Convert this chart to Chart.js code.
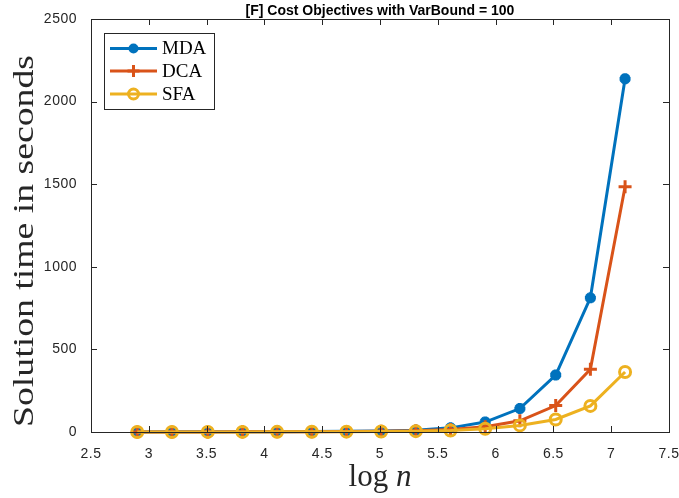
<!DOCTYPE html>
<html>
<head>
<meta charset="utf-8">
<script src="https://cdn.jsdelivr.net/npm/chart.js@4/dist/chart.umd.min.js"></script>
<style>
  html, body { margin: 0; padding: 0; background: #fff; }
</style>
</head>
<body>
<canvas id="chart" width="679" height="498"></canvas>
<script>
// log n values (n doubling each step)
const logN = [2.90, 3.20, 3.51, 3.81, 4.11, 4.41, 4.71, 5.01, 5.31, 5.61, 5.91, 6.21, 6.52, 6.82, 7.12];
// solution times in seconds
const mdaTime = [0.5, 0.8, 1, 1.5, 2, 3, 4, 6, 10, 25, 60, 142, 345, 812, 2138];
const dcaTime = [0.3, 0.5, 0.7, 1, 1.5, 2, 3, 4, 7, 15, 32, 68, 160, 380, 1485];
const sfaTime = [0.2, 0.3, 0.5, 0.7, 1, 1.5, 2, 3, 5, 9, 20, 40, 76, 158, 363];
const seriesNames = ['MDA', 'DCA', 'SFA'];
const seriesColors = ['#0072BD', '#D95319', '#EDB120'];
const xTicks = [2.5, 3, 3.5, 4, 4.5, 5, 5.5, 6, 6.5, 7, 7.5];
const yTicks = [0, 500, 1000, 1500, 2000, 2500];

const axisColor = '#262626';
const lw = 3;

function pts(ys) {
  return logN.map((x, i) => ({ x: x, y: ys[i] }));
}

function drawMarker(ctx, kind, x, y, color) {
  ctx.save();
  ctx.strokeStyle = color;
  ctx.fillStyle = color;
  ctx.lineWidth = lw;
  ctx.beginPath();
  if (kind === 'star') {
    ctx.arc(x, y, 5, 0, Math.PI * 2);
    ctx.fill();
  } else if (kind === 'cross') {
    ctx.moveTo(x - 6, y); ctx.lineTo(x + 6, y);
    ctx.moveTo(x, y - 6); ctx.lineTo(x, y + 6);
    ctx.stroke();
  } else {
    ctx.arc(x, y, 5, 0, Math.PI * 2);
    ctx.stroke();
  }
  ctx.restore();
}

const spacing = {
  id: 'spacing',
  beforeDraw(chart) { chart.ctx.letterSpacing = '0.5px'; }
};

const decorations = {
  id: 'decorations',
  afterDraw(chart) {
    const ctx = chart.ctx;
    ctx.letterSpacing = '0px';
    const a = chart.chartArea;
    const xs = chart.scales.x, ys = chart.scales.y;
    ctx.save();
    // box
    ctx.strokeStyle = axisColor;
    ctx.lineWidth = 1;
    ctx.strokeRect(Math.round(a.left) + 0.5, Math.round(a.top) + 0.5,
                   Math.round(a.right - a.left), Math.round(a.bottom - a.top));
    // tick marks, inward, all four sides
    ctx.beginPath();
    xTicks.forEach(v => {
      const px = Math.round(xs.getPixelForValue(v)) + 0.5;
      ctx.moveTo(px, a.bottom); ctx.lineTo(px, a.bottom - 6);
      ctx.moveTo(px, a.top); ctx.lineTo(px, a.top + 6);
    });
    yTicks.forEach(v => {
      const py = Math.round(ys.getPixelForValue(v)) + 0.5;
      ctx.moveTo(a.left, py); ctx.lineTo(a.left + 6, py);
      ctx.moveTo(a.right, py); ctx.lineTo(a.right - 6, py);
    });
    ctx.stroke();

    // title
    ctx.fillStyle = '#000';
    ctx.font = 'bold 14px "Liberation Sans", Arial, sans-serif';
    ctx.textAlign = 'center';
    ctx.textBaseline = 'alphabetic';
    ctx.fillText('[F] Cost Objectives with VarBound = 100', (a.left + a.right) / 2, 15);

    // y axis label
    ctx.save();
    ctx.fillStyle = axisColor;
    ctx.translate(33, 241);
    ctx.rotate(-Math.PI / 2);
    ctx.font = '30px "Liberation Serif", "Times New Roman", serif';
    const ylab = 'Solution time in seconds';
    const yw = ctx.measureText(ylab).width;
    ctx.scale(372 / yw, 1);
    ctx.textAlign = 'center';
    ctx.fillText(ylab, 0, 0);
    ctx.restore();

    // x axis label: log n (n italic)
    ctx.fillStyle = axisColor;
    ctx.textAlign = 'left';
    const f1 = '31px "Liberation Serif", "Times New Roman", serif';
    const f2 = 'italic 31px "Liberation Serif", "Times New Roman", serif';
    ctx.font = f1;
    const w1 = ctx.measureText('log ').width;
    ctx.font = f2;
    const w2 = ctx.measureText('n').width;
    const x0 = (a.left + a.right) / 2 - (w1 + w2) / 2;
    ctx.font = f1;
    ctx.fillText('log ', x0, 486);
    ctx.font = f2;
    ctx.fillText('n', x0 + w1, 486);

    // legend
    ctx.fillStyle = '#fff';
    ctx.fillRect(104.5, 33.5, 110, 76);
    ctx.strokeStyle = axisColor;
    ctx.lineWidth = 1;
    ctx.strokeRect(104.5, 33.5, 110, 76);
    const rows = [48.5, 71, 94];
    const kinds = ['star', 'cross', 'circle'];
    ctx.font = '19px "Liberation Serif", "Times New Roman", serif';
    ctx.textBaseline = 'middle';
    rows.forEach((ry, i) => {
      ctx.strokeStyle = seriesColors[i];
      ctx.lineWidth = lw;
      ctx.beginPath();
      ctx.moveTo(110, ry); ctx.lineTo(157, ry);
      ctx.stroke();
      drawMarker(ctx, kinds[i], 133.5, ry, seriesColors[i]);
      ctx.fillStyle = '#000';
      ctx.fillText(seriesNames[i], 162, ry + 1);
    });
    ctx.restore();
  }
};

const tickFont = { family: '"Liberation Sans", Arial, sans-serif', size: 14 };

const ctx = document.getElementById('chart').getContext('2d');
const chart = new Chart(ctx, {
  type: 'line',
  data: {
    datasets: [
      {
        label: seriesNames[0], data: pts(mdaTime), order: 2,
        borderColor: seriesColors[0], backgroundColor: seriesColors[0],
        borderWidth: lw, pointStyle: 'star', pointRadius: 5.5, pointBorderWidth: 3.8,
        tension: 0, clip: false
      },
      {
        label: seriesNames[1], data: pts(dcaTime), order: 1,
        borderColor: seriesColors[1], backgroundColor: seriesColors[1],
        borderWidth: lw, pointStyle: 'cross', pointRadius: 6.5, pointBorderWidth: 3,
        tension: 0, clip: false
      },
      {
        label: seriesNames[2], data: pts(sfaTime), order: 0,
        borderColor: seriesColors[2], backgroundColor: 'rgba(0,0,0,0)',
        borderWidth: lw, pointStyle: 'circle', pointRadius: 5.5, pointBorderWidth: 3,
        tension: 0, clip: false
      }
    ]
  },
  options: {
    responsive: false,
    animation: false,
    devicePixelRatio: 1,
    layout: { padding: { top: 19, right: 10, left: 0, bottom: 0 } },
    plugins: {
      legend: { display: false },
      title: { display: false },
      tooltip: { enabled: false }
    },
    scales: {
      x: {
        type: 'linear', min: 2.5, max: 7.5,
        afterBuildTicks: s => { s.ticks = xTicks.map(v => ({ value: v })); },
        afterFit: s => { s.height = 66; s.paddingLeft = 0; s.paddingRight = 0; },
        grid: { display: false },
        border: { display: false },
        ticks: {
          color: axisColor, padding: 6, maxRotation: 0, autoSkip: false,
          font: tickFont, callback: v => String(v)
        }
      },
      y: {
        type: 'linear', min: 0, max: 2500,
        afterBuildTicks: s => { s.ticks = yTicks.map(v => ({ value: v })); },
        afterFit: s => { s.width = 91; s.paddingTop = 0; s.paddingBottom = 0; },
        grid: { display: false },
        border: { display: false },
        ticks: {
          color: axisColor, padding: 6, autoSkip: false,
          font: tickFont, callback: v => String(v)
        }
      }
    }
  },
  plugins: [spacing, decorations]
});
</script>
</body>
</html>
